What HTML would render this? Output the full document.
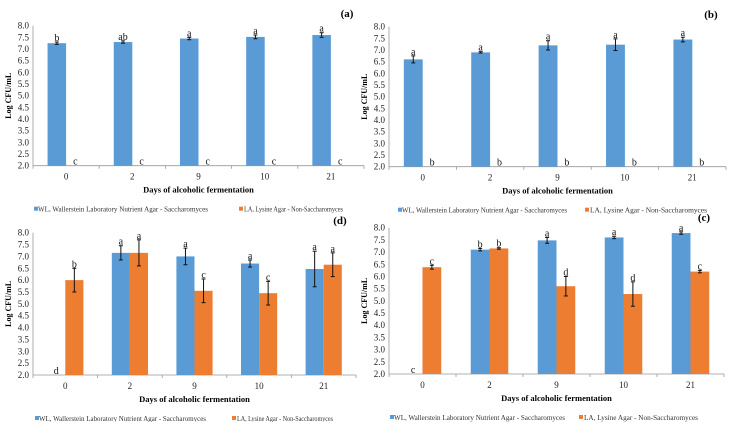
<!DOCTYPE html>
<html><head><meta charset="utf-8">
<style>
html,body{margin:0;padding:0;background:#fff;}
svg{display:block;font-family:"Liberation Serif",serif;}
</style></head>
<body>
<svg id="chart" width="731" height="422" viewBox="0 0 731 422" xmlns="http://www.w3.org/2000/svg"></svg>
<script>
const categories = ["0","2","9","10","21"];
const yTicks = ["2.0","2.5","3.0","3.5","4.0","4.5","5.0","5.5","6.0","6.5","7.0","7.5","8.0"];
// Panel a
const aWL = [7.25, 7.3, 7.45, 7.52, 7.6];
const aWLerr = [0.05, 0.05, 0.05, 0.08, 0.1];
const aLA = [2.0, 2.0, 2.0, 2.0, 2.0];
const aLAerr = [0, 0, 0, 0, 0];
const aWLlet = ["b","ab","a","a","a"];
const aLAlet = ["c","c","c","c","c"];
// Panel b
const bWL = [6.6, 6.9, 7.2, 7.23, 7.45];
const bWLerr = [0.15, 0.03, 0.2, 0.25, 0.1];
const bLA = [2.0, 2.0, 2.0, 2.0, 2.0];
const bLAerr = [0, 0, 0, 0, 0];
const bWLlet = ["a","a","a","a","a"];
const bLAlet = ["b","b","b","b","b"];
// Panel d
const dWL = [2.0, 7.15, 7.0, 6.7, 6.47];
const dWLerr = [0, 0.3, 0.35, 0.15, 0.75];
const dLA = [6.0, 7.15, 5.55, 5.45, 6.65];
const dLAerr = [0.5, 0.55, 0.5, 0.5, 0.5];
const dWLlet = ["d","a","a","a","a"];
const dLAlet = ["b","a","c","c","a"];
// Panel c
const cWL = [2.0, 7.1, 7.48, 7.6, 7.78];
const cWLerr = [0, 0.05, 0.12, 0.05, 0.05];
const cLA = [6.38, 7.15, 5.6, 5.28, 6.2];
const cLAerr = [0.08, 0.03, 0.4, 0.5, 0.05];
const cWLlet = ["c","b","a","a","a"];
const cLAlet = ["c","b","d","d","c"];

const NS = "http://www.w3.org/2000/svg";
const svg = document.getElementById("chart");
function mk(tag, attrs, parent, text){
  const e = document.createElementNS(NS, tag);
  for (const k in attrs) e.setAttribute(k, attrs[k]);
  if (text !== undefined) e.textContent = text;
  (parent || svg).appendChild(e);
  return e;
}
const BLUE = "#5b9bd5", ORANGE = "#ed7d31";

function panel(id, L, R, T, B, tagX, tagY, leg, wl, wlE, la, laE, wlL, laL){
  const g = mk("g", {});
  
  
  const y = v => B - (v - 2) / 6 * (B - T);
  const step = (R - L) / categories.length;
  const cx = i => L + step * (i + 0.5);
  const bw = step * 0.28;
  yTicks.forEach(t => {
    const yy = y(parseFloat(t));
    const tx = mk("text", {x: L - 4, y: yy + 3, "font-size": 9, "text-anchor": "end", fill: "#222"}, g, t);
    
    
  });
  mk("line", {x1: L, y1: T, x2: L, y2: B, stroke: "#999", "stroke-width": 0.8}, g);
  mk("line", {x1: L, y1: B, x2: R, y2: B, stroke: "#999", "stroke-width": 0.8}, g);
  categories.forEach((c, i) => {
    mk("line", {x1: L + step * i, y1: B, x2: L + step * i, y2: B + 3, stroke: "#999", "stroke-width": 0.8}, g);
    const tx = mk("text", {x: cx(i), y: B + 14, "font-size": 9, "text-anchor": "middle", fill: "#222"}, g, c);
    
    
  });
  mk("line", {x1: R, y1: B, x2: R, y2: B + 3, stroke: "#999", "stroke-width": 0.8}, g);
  function series(vals, errs, lets, color, off, nm){
    vals.forEach((v, i) => {
      const x0 = cx(i) + off;
      if (v > 2) {
        const r = mk("rect", {x: x0, y: y(v), width: bw, height: B - y(v), fill: color}, g);
        
        
        const e = errs[i];
        if (e > 0) {
          const m = x0 + bw / 2;
          mk("line", {x1: m, y1: y(v + e), x2: m, y2: y(v - e), stroke: "#111", "stroke-width": 1}, g);
          mk("line", {x1: m - 2, y1: y(v + e), x2: m + 2, y2: y(v + e), stroke: "#111", "stroke-width": 1}, g);
          mk("line", {x1: m - 2, y1: y(v - e), x2: m + 2, y2: y(v - e), stroke: "#111", "stroke-width": 1}, g);
        }
      }
      const top = v > 2 ? y(v + errs[i]) - 1 : B - 1;
      const lt = mk("text", {x: x0 + bw / 2, y: top, "font-size": 10, "text-anchor": "middle", fill: "#111"}, g, lets[i]);
      
      
    });
  }
  series(wl, wlE, wlL, BLUE, -bw, "wl");
  series(la, laE, laL, ORANGE, 0, "la");
  const yt = mk("text", {x: 0, y: 0, "font-size": 8, "font-weight": "bold", "text-anchor": "middle", transform: `translate(${L - 22},${(T + B) / 2}) rotate(-90)`}, g, "Log CFU/mL");
  
  
  const xt = mk("text", {x: (L + R) / 2, y: B + 27, "font-size": 8.5, "font-weight": "bold", "text-anchor": "middle"}, g, "Days of alcoholic fermentation");
  
  
  const pt = mk("text", {x: tagX, y: tagY, "font-size": 11, "font-weight": "bold", "text-anchor": "middle"}, g, "(" + id + ")");
  
  
  const ly = B + 46;
  const lg = mk("g", {}, g);
  
  
  mk("rect", {x: leg[0], y: ly - 5, width: 4, height: 4, fill: BLUE}, lg);
  const l1 = mk("text", {x: leg[0] + 4, y: ly, "font-size": 7.5, fill: "#333", textLength: leg[1], lengthAdjust: "spacingAndGlyphs"}, lg, "WL, Wallerstein Laboratory Nutrient Agar - Saccharomyces");
  
  
  mk("rect", {x: leg[2], y: ly - 5, width: 4, height: 4, fill: ORANGE}, lg);
  const l2 = mk("text", {x: leg[2] + 5, y: ly, "font-size": 7.5, fill: "#333", textLength: leg[3], lengthAdjust: "spacingAndGlyphs"}, lg, "LA, Lysine Agar - Non-Saccharomyces");
  
  
}
panel("a", 33, 364, 25.7, 165.7, 347, 17, [34, 170, 239, 99], aWL, aWLerr, aLA, aLAerr, aWLlet, aLAlet);
panel("b", 389, 726, 26.7, 166.7, 711, 18, [398, 165, 585, 117], bWL, bWLerr, bLA, bLAerr, bWLlet, bLAlet);
panel("d", 33, 356, 232.7, 375, 340, 224, [35, 167, 232, 96], dWL, dWLerr, dLA, dLAerr, dWLlet, dLAlet);
panel("c", 389, 724, 227.7, 374, 704, 221, [390, 171, 579, 114], cWL, cWLerr, cLA, cLAerr, cWLlet, cLAlet);
</script>
</body></html>
